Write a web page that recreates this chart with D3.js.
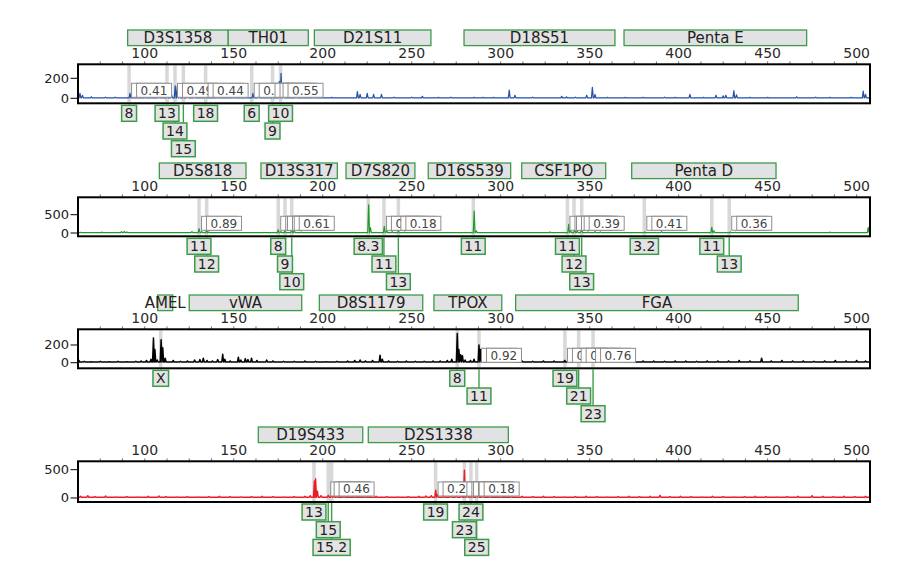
<!DOCTYPE html>
<html><head><meta charset="utf-8">
<script src="https://cdn.jsdelivr.net/npm/d3@7"></script>
<style>body{margin:0;background:#fff}svg{display:block}text{font-family:"DejaVu Sans",sans-serif}</style>
</head><body><svg id="c" width="921" height="574"></svg>
<script>
// ---------- data ----------
const xDomain = [62.5, 507.5];
const xTickValues = [100, 150, 200, 250, 300, 350, 400, 450, 500];

const blueTicks = [0, 200];
const greenTicks = [0, 500];
const blackTicks = [0, 200];
const redTicks = [0, 500];

// loci: [name, start bp, end bp]
const blueLoci = [["D3S1358", 90.4, 146.9], ["TH01", 146.9, 191.9], ["D21S11", 195.3, 260.8], ["D18S51", 279.4, 364.2], ["Penta E", 369.3, 471.9]];
const greenLoci = [["D5S818", 108.2, 156.9], ["D13S317", 165.3, 208.2], ["D7S820", 213.1, 251.8], ["D16S539", 259.3, 305.6], ["CSF1PO", 311.8, 359.0], ["Penta D", 373.6, 454.7]];
const blackLoci = [["AMEL", 107.3, 115.7], ["vWA", 125.0, 188.2], ["D8S1179", 198.1, 256.2], ["TPOX", 262.5, 300.6], ["FGA", 308.4, 467.2]];
const redLoci = [["D19S433", 163.8, 222.5], ["D2S1338", 225.6, 304.3]];

// alleles: [label, bp, tier]
const blueAlleles = [["8", 91.2, 0], ["13", 112.5, 0], ["14", 117.0, 1], ["15", 121.7, 2], ["18", 134.2, 0], ["6", 160.1, 0], ["9", 171.8, 1], ["10", 176.3, 0]];
const greenAlleles = [["11", 130.5, 0], ["12", 134.8, 1], ["8", 175.0, 0], ["9", 178.8, 1], ["10", 182.6, 2], ["8.3", 225.6, 0], ["11", 234.4, 1], ["13", 242.5, 2], ["11", 284.6, 0], ["11", 337.5, 0], ["12", 341.2, 1], ["13", 345.5, 2], ["3.2", 380.7, 0], ["11", 418.6, 0], ["13", 428.4, 1]];
const blackAlleles = [["X", 109.0, 0], ["8", 275.6, 0], ["11", 287.8, 1], ["19", 336.1, 0], ["21", 343.8, 1], ["23", 351.9, 2]];
const redAlleles = [["13", 195.1, 0], ["15", 203.1, 1], ["15.2", 205.0, 2], ["19", 263.4, 0], ["24", 283.3, 0], ["23", 279.6, 1], ["25", 286.5, 2]];

// ratio labels: [allele bp, text]
const blueRatios = [[91.2, "0.41"], [117.0, "0.49"], [134.2, "0.44"], [160.1, "0.28"], [171.8, "0.23"], [176.3, "0.55"]];
const greenRatios = [[130.5, "0.89"], [175.0, "0.66"], [178.8, "0.58"], [182.6, "0.61"], [234.4, "0.27"], [242.5, "0.18"], [337.5, "0.97"], [341.2, "0.97"], [345.5, "0.39"], [380.7, "0.41"], [428.4, "0.36"]];
const blackRatios = [[287.8, "0.92"], [336.1, "0.45"], [343.8, "0.47"], [351.9, "0.76"]];
const redRatios = [[203.1, "0.14"], [205.0, "0.46"], [263.4, "0.23"], [279.6, "0.28"], [283.3, "0.26"], [286.5, "0.18"]];

// peaks: [bp, RFU]
const bluePeaks = [[63.6, 50], [65, 30], [70, 15], [78, 12], [83.4, 12], [91.7, 50], [100, 10], [108, 15], [112.7, 35], [115, 40], [117.1, 125], [118.3, 120], [119.5, 60], [121.7, 100], [124, 40], [128, 20], [134.2, 30], [141, 10], [150, 10], [160.8, 50], [164, 15], [171.9, 25], [175.6, 170], [176.6, 250], [178, 60], [185, 20], [195, 10], [205, 10], [219.5, 66], [221, 40], [225, 50], [228.6, 40], [233, 40], [240, 12], [250, 12], [256, 20], [265, 10], [272, 12], [285, 10], [290, 10], [296, 10], [304.8, 83], [308, 30], [318, 12], [334.3, 20], [337, 15], [342, 12], [348.3, 30], [351.5, 110], [353, 40], [360, 10], [370, 10], [380, 10], [392, 12], [398, 10], [406.3, 40], [414, 10], [421, 30], [425, 25], [426.5, 30], [431, 76], [432.5, 35], [440, 10], [450, 10], [466.3, 15], [477, 12], [485, 10], [497, 10], [503.7, 73], [505, 40]];
const greenPeaks = [[64, 20], [70, 12], [76, 25], [82, 12], [87, 40], [88.5, 45], [90, 30], [96, 12], [104, 15], [112, 12], [120, 12], [126.5, 40], [130.5, 117], [132, 40], [134.8, 90], [136, 30], [145, 12], [152, 15], [160, 12], [167, 20], [175, 90], [176.5, 40], [178.8, 50], [182.6, 155], [184, 60], [188, 25], [195, 12], [205, 15], [215, 12], [225.8, 770], [226.8, 150], [230, 20], [234.6, 183], [236, 60], [239, 40], [242.5, 45], [246, 25], [250, 15], [256, 12], [262, 12], [270, 15], [278, 12], [285.1, 600], [286.3, 60], [292, 12], [300, 12], [310, 12], [320, 10], [327.7, 30], [333, 12], [338.2, 235], [339.2, 80], [341.6, 120], [343, 60], [345.4, 110], [349, 30], [353, 40], [356, 30], [362, 12], [370, 12], [381, 30], [387, 15], [390.4, 35], [394, 15], [402, 12], [410, 12], [418.6, 155], [419.8, 60], [429, 30], [432, 20], [440, 12], [455, 12], [470, 12], [485, 25], [495, 12], [506.5, 155]];
const blackPeaks = [[63, 25], [66, 15], [70, 10], [75, 15], [80, 12], [85, 15], [90, 12], [95, 15], [98, 20], [101, 25], [103.5, 40], [104.9, 280], [105.7, 150], [107, 30], [109.2, 260], [110.1, 170], [111.5, 50], [116, 25], [120, 15], [124, 20], [128, 30], [131, 35], [132.9, 50], [135, 25], [138, 20], [141, 35], [143.8, 95], [145, 40], [148, 20], [152.6, 62], [154, 30], [156.5, 45], [158, 35], [160, 50], [163, 25], [168.5, 30], [172, 20], [178, 15], [184, 15], [190, 18], [196, 15], [202, 12], [208, 15], [214, 18], [218, 25], [221, 30], [224, 20], [228, 25], [232.2, 85], [233.5, 40], [237, 20], [242, 15], [247, 18], [252, 15], [257, 15], [262, 18], [266, 20], [270, 25], [272.5, 40], [275.6, 330], [276.5, 150], [277.5, 90], [278.5, 80], [280, 30], [283, 25], [285, 40], [287.8, 200], [288.8, 150], [290, 50], [294, 25], [300, 20], [306, 18], [312, 20], [318, 15], [324, 20], [330, 18], [336, 25], [338.5, 45], [342, 20], [346, 35], [349, 40], [351.5, 35], [356, 20], [362, 18], [368, 20], [374, 15], [380, 20], [386, 18], [392, 15], [398, 20], [404, 18], [410, 15], [416, 20], [422, 18], [428, 20], [434, 25], [440, 20], [446.6, 50], [452, 20], [458, 25], [464, 18], [470, 20], [476, 15], [482, 20], [488, 25], [494, 20], [500, 25], [505, 18]];
const redPeaks = [[64, 30], [68, 40], [72, 25], [78, 35], [84, 20], [90, 25], [96, 20], [102, 30], [108, 35], [112, 25], [118, 20], [124, 25], [130, 20], [136, 25], [142, 30], [148, 25], [154, 20], [160, 25], [166, 30], [172, 25], [178, 20], [184, 25], [190, 30], [193, 40], [195.3, 300], [196, 340], [197, 120], [199, 40], [203.1, 45], [205, 106], [206.2, 60], [208, 30], [212, 25], [218, 30], [224, 25], [230, 30], [236, 25], [242, 20], [248, 25], [254, 30], [258, 35], [261, 40], [263.5, 136], [264.5, 60], [268, 30], [272, 35], [275, 40], [278, 60], [279.6, 490], [280.4, 160], [281.5, 100], [283.3, 200], [284.2, 80], [286.5, 140], [287.5, 60], [290, 40], [294, 25], [300, 30], [306, 25], [312, 30], [318, 25], [324, 30], [330, 25], [336, 20], [342, 25], [348, 30], [354, 25], [360, 20], [366, 25], [372, 30], [378, 25], [384, 30], [389.5, 45], [395, 25], [401, 30], [407, 25], [413, 20], [419, 30], [425, 25], [431, 20], [437, 25], [443, 30], [449, 25], [455, 20], [461, 25], [467, 30], [475, 40], [481, 30], [487, 25], [493, 30], [499, 25], [505, 30]];

// ---------- layout / drawing ----------
const svg = d3.select("#c");
const x = d3.scaleLinear().domain(xDomain).range([78, 870]);

const panels = [
  {color: "#2350a8", lw: 1.2, top: 64.3, bottom: 103.3, yDomain: [-50, 340], ticks: blueTicks, peaks: bluePeaks, base: 4, loci: blueLoci, alleles: blueAlleles, ratios: blueRatios},
  {color: "#239a2c", lw: 1.2, top: 197.3, bottom: 236.3, yDomain: [-90, 975], ticks: greenTicks, peaks: greenPeaks, base: 8, loci: greenLoci, alleles: greenAlleles, ratios: greenRatios},
  {color: "#000000", lw: 1.5, top: 329.3, bottom: 368.3, yDomain: [-63, 377], ticks: blackTicks, peaks: blackPeaks, base: 8, loci: blackLoci, alleles: blackAlleles, ratios: blackRatios},
  {color: "#ec1c24", lw: 1.4, top: 461.3, bottom: 502, yDomain: [-71, 648], ticks: redTicks, peaks: redPeaks, base: 14, loci: redLoci, alleles: redAlleles, ratios: redRatios}
];

const GREEN = "#3c9c4a";
const minorTicks = d3.range(75, 507.5, 12.5);

panels.forEach((p, pi) => {
  const g = svg.append("g");
  const y = d3.scaleLinear().domain(p.yDomain).range([p.bottom, p.top]);

  // locus boxes
  const lg = g.append("g");
  p.loci.forEach(([name, s, e]) => {
    lg.append("rect").attr("x", x(s)).attr("y", p.top - 34.3).attr("width", x(e) - x(s)).attr("height", 15.6)
      .attr("fill", "#e2e1e3").attr("stroke", GREEN).attr("stroke-width", 1.3);
    lg.append("text").attr("x", (x(s) + x(e)) / 2).attr("y", p.top - 21.2).attr("text-anchor", "middle")
      .attr("font-size", 15).attr("fill", "#222").text(name);
  });

  // top axis labels
  g.append("g").selectAll("text").data(xTickValues).join("text")
    .attr("x", d => x(d)).attr("y", p.top - 6.3).attr("text-anchor", "middle")
    .attr("font-size", 14).attr("fill", "#2a2a2a").text(d => d);
  g.append("g").selectAll("line").data(minorTicks).join("line")
    .attr("x1", d => x(d)).attr("x2", d => x(d)).attr("y1", p.top).attr("y2", p.top - 3)
    .attr("stroke", "#777").attr("stroke-width", 1);

  // bin bands
  g.append("g").selectAll("line").data(p.alleles).join("line")
    .attr("x1", d => x(d[1])).attr("x2", d => x(d[1])).attr("y1", p.top + 1).attr("y2", p.bottom - 1)
    .attr("stroke", "#d8d8d8").attr("stroke-width", 3.5);

  // trace
  const clipId = "clip" + pi;
  svg.append("clipPath").attr("id", clipId).append("rect")
    .attr("x", 79).attr("y", p.top + 1).attr("width", 790).attr("height", p.bottom - p.top - 2);
  const pts = [[xDomain[0], p.base]];
  p.peaks.slice().sort((a, b) => a[0] - b[0]).forEach(([bp, h]) => {
    pts.push([bp - 0.5, p.base], [bp, h], [bp + 0.5, p.base]);
  });
  pts.push([xDomain[1], p.base]);
  const line = d3.line().x(d => x(d[0])).y(d => y(d[1]));
  g.append("path").attr("d", line(pts)).attr("fill", "none").attr("stroke", p.color)
    .attr("stroke-width", p.lw).attr("stroke-linejoin", "round").attr("clip-path", `url(#${clipId})`);

  // ratio labels
  const rg = g.append("g");
  p.ratios.forEach(([bp, t]) => {
    const gg = rg.append("g");
    gg.append("rect").attr("x", x(bp) + 2.5).attr("y", p.bottom - 20).attr("width", 35).attr("height", 14)
      .attr("fill", "#fff").attr("stroke", "#8e8e8e").attr("stroke-width", 1);
    gg.append("rect").attr("x", x(bp) + 7.5).attr("y", p.bottom - 20).attr("width", 35).attr("height", 14)
      .attr("fill", "#fff").attr("stroke", "#8e8e8e").attr("stroke-width", 1);
    gg.append("text").attr("x", x(bp) + 11.5).attr("y", p.bottom - 8.8).attr("font-size", 12)
      .attr("fill", "#444").text(t);
  });

  // frame
  g.append("rect").attr("x", 78).attr("y", p.top).attr("width", 792).attr("height", p.bottom - p.top)
    .attr("fill", "none").attr("stroke", "#000").attr("stroke-width", 2);

  // y axis
  const yg = g.append("g");
  yg.selectAll("line").data(p.ticks).join("line")
    .attr("x1", 70.5).attr("x2", 78).attr("y1", d => y(d)).attr("y2", d => y(d))
    .attr("stroke", "#000").attr("stroke-width", 1);
  yg.selectAll("text").data(p.ticks).join("text")
    .attr("x", 69).attr("y", d => y(d) + 4.5).attr("text-anchor", "end")
    .attr("font-size", 13).attr("fill", "#222").text(d => d);

  // allele labels
  const ag = g.append("g");
  p.alleles.forEach(([lab, bp, tier]) => {
    const top = p.bottom + 2 + tier * 17.7;
    ag.append("line").attr("x1", x(bp)).attr("x2", x(bp)).attr("y1", p.bottom + 1).attr("y2", top)
      .attr("stroke", GREEN).attr("stroke-width", 1.4);
  });
  p.alleles.forEach(([lab, bp, tier]) => {
    const top = p.bottom + 2 + tier * 17.7;
    const bg = ag.append("g");
    const r = bg.append("rect").attr("y", top).attr("height", 16)
      .attr("fill", "#e3e3e3").attr("stroke", GREEN).attr("stroke-width", 1.5);
    const t = bg.append("text").attr("x", x(bp)).attr("y", top + 13).attr("text-anchor", "middle")
      .attr("font-size", 14).attr("fill", "#222").text(lab);
    const w = t.node().getComputedTextLength() + 6;
    r.attr("x", x(bp) - w / 2).attr("width", w);
  });
});
</script></body></html>
